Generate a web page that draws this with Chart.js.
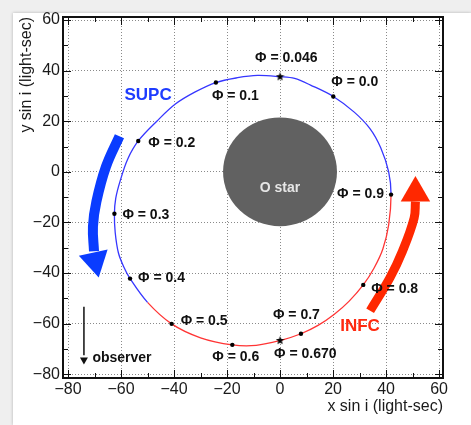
<!DOCTYPE html>
<html>
<head>
<meta charset="utf-8">
<script src="https://cdn.jsdelivr.net/npm/chart.js@4.4.1/dist/chart.umd.min.js"></script>
<style>
    html, body { margin: 0; padding: 0; background: #efefef; width: 471px; height: 425px; overflow: hidden; }
    #card { position: absolute; left: 13px; top: 13px; width: 458px; height: 412px; background: #fff; box-shadow: 0 0 3px rgba(0,0,0,0.25); }
    #orbit { position: absolute; left: 0; top: 0; }
</style>
</head>
<body>
<div id="card"></div>
<canvas id="orbit" width="471" height="425"></canvas>
<script>
// Орбитальные фазы (подписи и положения точек, световые секунды)
const phaseNames = ['0.0', '0.046', '0.1', '0.2', '0.3', '0.4', '0.5', '0.6', '0.670', '0.7', '0.8', '0.9'];
const phaseX = [20.1, 0, -24.2, -53.5, -62.5, -56.6, -40.9, -18.0, 0, 7.9, 31.4, 41.9];
const phaseY = [29.8, 37.6, 35.3, 12.2, -16.6, -42.2, -60.1, -68.4, -66.7, -64.0, -44.7, -9.0];
const conjunctionPhases = ['0.046', '0.670'];

// Орбита: часть у верхнего соединения (синяя) и у нижнего (красная).
// Первая и последняя точки каждой части взяты с соседней части —
// только для гладкого стыка, эти отрезки не рисуются.
const supcX = [41.0, 41.9, 41.0, 38.0, 34.0, 28.0, 20.1, 11.5, 5.5, 0, -8.5, -16.0, -24.2, -32.0, -39.5, -46.5, -53.5, -57.5, -60.3, -62.0, -62.5, -62.2, -61.0, -59.0, -56.6, -50.0, -40.9];
const supcY = [-21.0, -9.0, 0, 9.5, 17.0, 23.6, 29.8, 34.3, 36.9, 37.6, 38.1, 37.2, 35.3, 31.6, 26.8, 20.0, 12.2, 5.0, -3.5, -10.5, -16.6, -24.0, -32.0, -37.5, -42.2, -51.6, -60.1];
const infcX = [-56.6, -50.0, -40.9, -30.0, -18.0, -9.0, 0, 7.9, 14.5, 20.5, 26.0, 31.4, 35.5, 38.8, 41.0, 41.9, 41.0];
const infcY = [-42.2, -51.6, -60.1, -65.6, -68.4, -68.6, -66.7, -64.0, -60.6, -56.3, -51.2, -44.7, -38.0, -30.5, -21.0, -9.0, 0];

// Стрелки направления движения
const supcArrowX = [-60.6, -65.7, -69.3, -70.6, -70.2];
const supcArrowY = [14.1, 2.0, -11.8, -21.6, -31.4];
const supcHead = [-69.8, -35.2];
const infcArrowX = [34.0, 41.5, 46.2, 50.6, 51.1];
const infcArrowY = [-54.9, -41.8, -31.4, -18.3, -11.8];
const infcHead = [51.1, -8.4];
const observerX = [-74, -74];
const observerY = [-53.3, -72.5];
const observerHead = [-74, -74.3];

// O-звезда
const starCenter = [0, 0];
const starRadius = 21.5;

// Оси
const xTickValues = [-80, -70, -60, -50, -40, -30, -20, -10, 0, 10, 20, 30, 40, 50, 60];
const yTickValues = [-80, -70, -60, -50, -40, -30, -20, -10, 0, 10, 20, 30, 40, 50, 60];

// Надписи на поле графика
const notes = [
    { text: 'SUPC', x: -49.8, y: 30.1, color: '#1e3cff', size: 17, align: 'center' },
    { text: 'INFC', x: 30.2, y: -61.2, color: '#ff2a10', size: 17, align: 'center' },
    { text: 'observer', x: -70.8, y: -73.8, color: '#111', size: 14, align: 'left' }
];

// смещения подписей фаз относительно точки, px
const labelOffsets = [[-2, -14], [-25, -19], [-4, 14], [10, 2], [8, 1], [8, 0], [9, -3], [-20, 12], [-6, 14], [-28, -19], [8, 4], [-54, 0]];

const FONT = '"Liberation Sans", Arial, Helvetica, sans-serif';

function toPoints(xs, ys) {
    return xs.map((x, i) => ({ x, y: ys[i] }));
}

// крайние отрезки части орбиты прозрачные
function innerSegments(color, n) {
    return ctx => (ctx.p0DataIndex === 0 || ctx.p1DataIndex === n - 1 ? 'rgba(0,0,0,0)' : color);
}

function makeStar(size) {
    const c = document.createElement('canvas');
    c.width = c.height = size;
    const g = c.getContext('2d');
    g.fillStyle = '#000';
    g.beginPath();
    for (let i = 0; i < 10; i++) {
        const r = i % 2 ? size * 0.21 : size / 2;
        const a = -Math.PI / 2 + i * Math.PI / 5;
        g.lineTo(size / 2 + r * Math.cos(a), size / 2 + r * Math.sin(a));
    }
    g.closePath();
    g.fill();
    return c;
}
const starImg = makeStar(9);

const fmt = v => (v < 0 ? '\u2212' + Math.abs(v) : String(v));

const orbitPlugin = {
    id: 'orbitDecor',
    beforeDatasetsDraw(chart) {
        const { ctx, scales: { x, y } } = chart;
        const cx = x.getPixelForValue(starCenter[0]);
        const cy = y.getPixelForValue(starCenter[1]);
        const rx = x.getPixelForValue(starCenter[0] + starRadius) - cx;
        const ry = cy - y.getPixelForValue(starCenter[1] + starRadius);
        ctx.save();
        ctx.fillStyle = '#616161';
        ctx.beginPath();
        ctx.ellipse(cx, cy, rx, ry, 0, 0, 2 * Math.PI);
        ctx.fill();
        ctx.fillStyle = '#e6e6e6';
        ctx.font = 'bold 14px ' + FONT;
        ctx.textAlign = 'center';
        ctx.textBaseline = 'middle';
        ctx.fillText('O star', cx, cy + 16);
        ctx.restore();
    },
    afterDatasetsDraw(chart) {
        const { ctx, scales: { x, y } } = chart;
        ctx.save();
        ctx.textBaseline = 'middle';
        ctx.fillStyle = '#111';
        ctx.font = 'bold 14px ' + FONT;
        ctx.textAlign = 'left';
        phaseNames.forEach((p, i) => {
            const px = x.getPixelForValue(phaseX[i]) + labelOffsets[i][0];
            const py = y.getPixelForValue(phaseY[i]) + labelOffsets[i][1];
            ctx.fillText('\u03A6 = ' + p, px, py);
        });
        notes.forEach(n => {
            ctx.fillStyle = n.color;
            ctx.font = 'bold ' + n.size + 'px ' + FONT;
            ctx.textAlign = n.align;
            ctx.fillText(n.text, x.getPixelForValue(n.x), y.getPixelForValue(n.y));
        });
        ctx.restore();
    },
    afterDraw(chart) {
        // рамка и засечки внутрь, как в ROOT
        const { ctx, chartArea: a, scales: { x, y } } = chart;
        ctx.save();
        ctx.strokeStyle = '#111';
        ctx.lineWidth = 1;
        ctx.beginPath();
        x.ticks.forEach(t => {
            const px = Math.round(x.getPixelForValue(t.value)) + 0.5;
            const len = t.value % 20 === 0 ? 8 : 5;
            ctx.moveTo(px, a.bottom); ctx.lineTo(px, a.bottom - len);
            ctx.moveTo(px, a.top); ctx.lineTo(px, a.top + len);
        });
        y.ticks.forEach(t => {
            const py = Math.round(y.getPixelForValue(t.value)) + 0.5;
            const len = t.value % 20 === 0 ? 8 : 5;
            ctx.moveTo(a.left, py); ctx.lineTo(a.left + len, py);
            ctx.moveTo(a.right, py); ctx.lineTo(a.right - len, py);
        });
        ctx.stroke();
        ctx.lineWidth = 2;
        ctx.strokeRect(a.left, a.top, a.right - a.left, a.bottom - a.top);
        ctx.restore();
    }
};

const gridColor = c => (c.tick && c.tick.value % 20 === 0 ? '#8a8a8a' : 'rgba(0,0,0,0)');

const ctx = document.getElementById('orbit').getContext('2d');
new Chart(ctx, {
    type: 'scatter',
    data: {
        datasets: [
            {
                data: toPoints(phaseX, phaseY),
                pointStyle: phaseNames.map(p => conjunctionPhases.includes(p) ? starImg : 'circle'),
                pointRadius: 2.2,
                backgroundColor: '#000',
                borderWidth: 0,
                order: 0
            },
            {
                data: toPoints(supcX, supcY),
                showLine: true, borderColor: '#3636ff', borderWidth: 1.3,
                segment: { borderColor: innerSegments('#3636ff', supcX.length) },
                pointRadius: 0, tension: 0.35, order: 2
            },
            {
                data: toPoints(infcX, infcY),
                showLine: true, borderColor: '#ff3434', borderWidth: 1.3,
                segment: { borderColor: innerSegments('#ff3434', infcX.length) },
                pointRadius: 0, tension: 0.35, order: 2
            },
            {
                data: toPoints(supcArrowX, supcArrowY),
                showLine: true, borderColor: '#0a3cff', borderWidth: 10, borderCapStyle: 'butt',
                pointRadius: 0, tension: 0.4, order: 3
            },
            {
                data: [{ x: supcHead[0], y: supcHead[1] }],
                pointStyle: 'triangle', pointRadius: 17, rotation: 167.6,
                backgroundColor: '#0a3cff', borderWidth: 0, order: 3
            },
            {
                data: toPoints(infcArrowX, infcArrowY),
                showLine: true, borderColor: '#ff2800', borderWidth: 9, borderCapStyle: 'butt',
                pointRadius: 0, tension: 0.4, order: 3
            },
            {
                data: [{ x: infcHead[0], y: infcHead[1] }],
                pointStyle: 'triangle', pointRadius: 17, rotation: 0,
                backgroundColor: '#ff2800', borderWidth: 0, order: 3
            },
            {
                data: toPoints(observerX, observerY),
                showLine: true, borderColor: '#111', borderWidth: 1.5,
                pointRadius: 0, order: 3
            },
            {
                data: [{ x: observerHead[0], y: observerHead[1] }],
                pointStyle: 'triangle', pointRadius: 4.6, rotation: 180,
                backgroundColor: '#111', borderWidth: 0, order: 3
            }
        ]
    },
    options: {
        responsive: false,
        maintainAspectRatio: false,
        animation: false,
        events: [],
        layout: { padding: { top: 14, right: 28, left: 0, bottom: 0 } },
        plugins: { legend: { display: false }, tooltip: { enabled: false } },
        scales: {
            x: {
                type: 'linear', min: -81.9, max: 61.5,
                afterBuildTicks: s => { s.ticks = xTickValues.map(v => ({ value: v })); },
                afterFit: s => { s.height = 47; },
                grid: { color: gridColor, drawTicks: false, lineWidth: 1 },
                border: { display: false, dash: [1, 2] },
                ticks: {
                    autoSkip: false, maxRotation: 0, padding: 2, color: '#1a1a1a',
                    font: { family: FONT, size: 16 },
                    callback: v => (v % 20 === 0 ? fmt(v) : '')
                },
                title: {
                    display: true, text: 'x sin i (light-sec)', align: 'end', color: '#1a1a1a',
                    font: { family: FONT, size: 16 }, padding: { top: 0, bottom: 8.4 }
                }
            },
            y: {
                type: 'linear', min: -81.5, max: 61.2,
                afterBuildTicks: s => { s.ticks = yTickValues.map(v => ({ value: v })); },
                afterFit: s => { s.width = 63; },
                grid: { color: gridColor, drawTicks: false, lineWidth: 1 },
                border: { display: false, dash: [1, 2] },
                ticks: {
                    autoSkip: false, padding: 3, color: '#1a1a1a',
                    font: { family: FONT, size: 16 },
                    callback: v => (v % 20 === 0 ? fmt(v) : '')
                },
                title: {
                    display: true, text: 'y sin i (light-sec)', align: 'end', color: '#1a1a1a',
                    font: { family: FONT, size: 16 }, padding: { top: 17.4, bottom: 0 }
                }
            }
        }
    },
    plugins: [orbitPlugin]
});
</script>
</body>
</html>
